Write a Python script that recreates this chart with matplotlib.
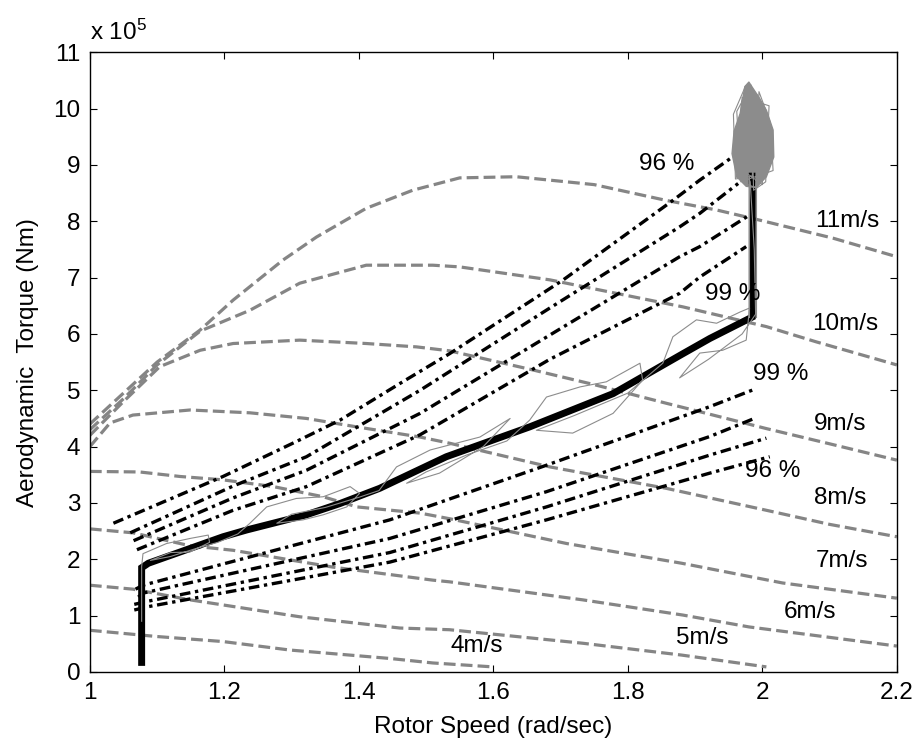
import numpy as np
import matplotlib
matplotlib.use("Agg")
import matplotlib.pyplot as plt

plt.rcParams['font.family'] = ['Liberation Sans', 'DejaVu Sans']
plt.rcParams['mathtext.default'] = 'regular'

# wind speed torque curves (x: rad/s, y: torque / 1e5 Nm)
w11_x = [1.0, 1.05, 1.1, 1.164, 1.213, 1.287, 1.337, 1.411, 1.48, 1.55, 1.634, 1.75, 1.857, 1.932, 1.996, 2.105, 2.2]
w11_y = [4.4, 4.95, 5.5, 6.07, 6.6, 7.31, 7.72, 8.23, 8.55, 8.77, 8.79, 8.65, 8.37, 8.2, 8.02, 7.70, 7.37]
w10_x = [1.0, 1.05, 1.1, 1.164, 1.238, 1.312, 1.411, 1.51, 1.55, 1.684, 1.783, 1.882, 2.006, 2.08, 2.2]
w10_y = [4.3, 4.85, 5.45, 6.05, 6.42, 6.9, 7.22, 7.22, 7.19, 6.96, 6.72, 6.48, 6.13, 5.86, 5.45]
w9_x = [1.0, 1.05, 1.104, 1.164, 1.213, 1.312, 1.411, 1.486, 1.535, 1.659, 1.75, 1.857, 1.897, 2.006, 2.1, 2.2]
w9_y = [4.2, 4.8, 5.42, 5.71, 5.83, 5.89, 5.83, 5.77, 5.70, 5.36, 5.1, 4.77, 4.65, 4.32, 4.05, 3.76]
w8_x = [1.0, 1.03, 1.064, 1.149, 1.238, 1.322, 1.397, 1.491, 1.535, 1.684, 1.857, 2.006, 2.1, 2.2]
w8_y = [4.0, 4.42, 4.56, 4.65, 4.6, 4.50, 4.35, 4.17, 4.06, 3.64, 3.26, 2.87, 2.62, 2.40]
w7_x = [1.0, 1.074, 1.134, 1.198, 1.273, 1.347, 1.397, 1.491, 1.535, 1.709, 1.88, 2.03, 2.2]
w7_y = [3.56, 3.55, 3.47, 3.41, 3.29, 3.11, 2.93, 2.82, 2.72, 2.28, 1.93, 1.58, 1.31]
w6_x = [1.0, 1.064, 1.149, 1.213, 1.362, 1.51, 1.535, 1.733, 1.882, 1.98, 2.2]
w6_y = [2.54, 2.47, 2.24, 2.16, 1.86, 1.63, 1.60, 1.28, 1.01, 0.80, 0.46]
w5_x = [1.0, 1.064, 1.149, 1.312, 1.461, 1.535, 1.733, 1.88, 2.006]
w5_y = [1.54, 1.47, 1.28, 0.98, 0.78, 0.75, 0.51, 0.30, 0.09]
w4_x = [1.0, 1.099, 1.198, 1.297, 1.446, 1.51, 1.6]
w4_y = [0.74, 0.63, 0.54, 0.39, 0.24, 0.16, 0.09]

wind_labels = ['11m/s', '10m/s', '9m/s', '8m/s', '7m/s', '6m/s', '5m/s', '4m/s']
wind_label_x = [2.127, 2.123, 2.116, 2.116, 2.119, 2.071, 1.911, 1.575]
wind_label_y = [8.0, 6.17, 4.40, 3.08, 1.97, 1.06, 0.61, 0.46]

# efficiency contours, upper group (96 % .. 99 %)
u1_x = [1.035, 1.198, 1.307, 1.372, 1.461, 1.535, 1.704, 1.867, 1.907, 1.952]
u1_y = [2.64, 3.47, 4.09, 4.47, 5.12, 5.65, 6.96, 8.37, 8.73, 9.11]
u2_x = [1.06, 1.213, 1.322, 1.491, 1.684, 1.877, 1.907, 1.964]
u2_y = [2.47, 3.30, 3.82, 5.00, 6.46, 7.90, 8.14, 8.67]
u3_x = [1.065, 1.213, 1.322, 1.491, 1.684, 1.877, 1.907, 1.981]
u3_y = [2.33, 3.09, 3.58, 4.59, 5.98, 7.37, 7.55, 8.11]
u4_x = [1.07, 1.213, 1.322, 1.491, 1.684, 1.877, 1.907, 1.976]
u4_y = [2.17, 2.87, 3.29, 4.21, 5.55, 6.72, 7.01, 7.55]
# lower group (99 % .. 96 %)
l1_x = [1.068, 1.079, 1.446, 1.679, 1.922, 1.991]
l1_y = [1.47, 1.54, 2.70, 3.67, 4.71, 5.03]
l2_x = [1.072, 1.079, 1.446, 1.679, 1.922, 1.986]
l2_y = [1.33, 1.40, 2.37, 3.20, 4.18, 4.49]
l3_x = [1.066, 1.084, 1.446, 1.679, 1.922, 2.006]
l3_y = [1.20, 1.25, 2.12, 2.93, 3.85, 4.15]
l4_x = [1.066, 1.087, 1.446, 1.679, 1.922, 2.011]
l4_y = [1.10, 1.16, 1.95, 2.70, 3.53, 3.82]

eff_labels = ['96 %', '99 %', '99 %', '96 %']
eff_label_x = [1.858, 1.956, 2.028, 2.016]
eff_label_y = [9.01, 6.71, 5.29, 3.57]

# reference (thick) trajectory
ref_x = [1.077, 1.077, 1.087, 1.198, 1.233, 1.322, 1.372, 1.431, 1.530, 1.654, 1.778, 1.882, 1.922, 1.985, 1.985]
ref_y = [0.17, 1.85, 1.93, 2.40, 2.52, 2.79, 2.99, 3.26, 3.82, 4.35, 4.94, 5.65, 5.92, 6.30, 8.80]

# simulated operating trajectory (thin gray)
sim_x = [1.077, 1.077, 1.079, 1.114, 1.149, 1.176, 1.178, 1.149, 1.12, 1.09, 1.12, 1.16, 1.19, 1.22,
         1.238, 1.263, 1.307, 1.347, 1.387, 1.401, 1.382, 1.347, 1.317, 1.278, 1.30, 1.35, 1.40, 1.43,
         1.456, 1.506, 1.58, 1.625, 1.585, 1.52, 1.471, 1.50, 1.56, 1.62, 1.654, 1.679, 1.729, 1.768,
         1.818, 1.822, 1.778, 1.718, 1.664, 1.72, 1.80, 1.852, 1.867, 1.902, 1.932, 1.967, 1.981, 1.976,
         1.941, 1.907, 1.877, 1.92, 1.97, 1.99, 1.988, 1.982, 1.980]
sim_y = [0.9, 1.87, 2.10, 2.28, 2.37, 2.43, 2.30, 2.13, 2.12, 1.98, 2.05, 2.20, 2.30, 2.45,
         2.64, 2.93, 3.08, 3.11, 3.29, 3.17, 2.93, 2.79, 2.70, 2.64, 2.80, 2.92, 3.10, 3.22,
         3.64, 3.94, 4.17, 4.50, 4.00, 3.53, 3.35, 3.55, 3.85, 4.10, 4.47, 4.88, 5.06, 5.15,
         5.48, 5.18, 4.59, 4.24, 4.29, 4.55, 4.95, 5.48, 5.95, 6.25, 6.19, 6.39, 6.46, 5.89,
         5.71, 5.66, 5.22, 5.55, 6.0, 6.35, 7.5, 8.7, 8.75]

# oscillation cluster at rated speed
blob_x = [1.962, 1.955, 1.958, 1.967, 1.974, 1.980, 1.986, 1.996, 2.006, 2.016, 2.017, 2.006, 1.991, 1.976, 1.962]
blob_y = [8.79, 9.20, 9.60, 9.91, 10.39, 10.47, 10.36, 10.18, 9.97, 9.62, 9.14, 8.79, 8.60, 8.62, 8.79]
osc_x = [1.985, 1.960, 1.957, 1.975, 1.978, 1.990, 1.995, 2.012, 2.016, 1.968, 1.962, 1.983,
         1.987, 2.005, 2.010, 1.970, 1.960, 2.000, 2.003, 1.992, 1.985]
osc_y = [8.80, 8.75, 9.90, 10.40, 8.65, 8.60, 10.30, 9.75, 8.90, 8.70, 9.95, 10.42,
         8.55, 8.70, 10.05, 10.20, 9.00, 8.65, 9.95, 10.25, 8.80]

fig = plt.figure(figsize=(9.17, 7.44), dpi=100)
ax = fig.add_axes([0.098, 0.0968, 0.880, 0.833])

gray = '#858585'
for xs, ys in [(w11_x, w11_y), (w10_x, w10_y), (w9_x, w9_y), (w8_x, w8_y),
               (w7_x, w7_y), (w6_x, w6_y), (w5_x, w5_y), (w4_x, w4_y)]:
    ax.plot(xs, ys, '--', color=gray, lw=2.3, dashes=(3.7, 1.6))

for xs, ys in [(u1_x, u1_y), (u2_x, u2_y), (u3_x, u3_y), (u4_x, u4_y),
               (l1_x, l1_y), (l2_x, l2_y), (l3_x, l3_y), (l4_x, l4_y)]:
    ax.plot(xs, ys, color='black', lw=2.4, dashes=(3.2, 1.4, 1.0, 1.4))

ax.plot(ref_x, ref_y, color='black', lw=5, solid_joinstyle='miter')
ax.plot(sim_x, sim_y, color='#8c8c8c', lw=0.8)
ax.plot([1.980, 1.980], [6.3, 8.8], color='#8c8c8c', lw=0.8)
ax.plot([1.990, 1.990], [6.3, 8.8], color='#8c8c8c', lw=0.8)
ax.fill(blob_x, blob_y, color='#8c8c8c', lw=0)
ax.plot(blob_x, blob_y, color='#8c8c8c', lw=1.0)
ax.plot(osc_x, osc_y, color='#8c8c8c', lw=0.8)

fs = 17.5
for s, x, y in zip(wind_labels, wind_label_x, wind_label_y):
    ax.text(x, y, s, fontsize=fs, ha='center', va='center')
for s, x, y in zip(eff_labels, eff_label_x, eff_label_y):
    ax.text(x, y, s, fontsize=fs, ha='center', va='center')

ax.set_xlim(1, 2.2)
ax.set_ylim(0, 11)
ax.set_xticks([1, 1.2, 1.4, 1.6, 1.8, 2, 2.2])
ax.set_xticklabels(['1', '1.2', '1.4', '1.6', '1.8', '2', '2.2'])
ax.set_yticks(range(0, 12))
ax.tick_params(direction='in', top=True, right=True, length=5, width=0.8,
               labelsize=fs, pad=7)
for sp in ax.spines.values():
    sp.set_linewidth(1.0)

ax.set_xlabel('Rotor Speed (rad/sec)', fontsize=fs, labelpad=9)
ax.set_ylabel('Aerodynamic  Torque (Nm)', fontsize=fs, labelpad=10)
ax.text(0.0, 1.012, r'x 10$^{5}$', transform=ax.transAxes, fontsize=fs,
        ha='left', va='bottom')

fig.savefig('out.png', dpi=100)
